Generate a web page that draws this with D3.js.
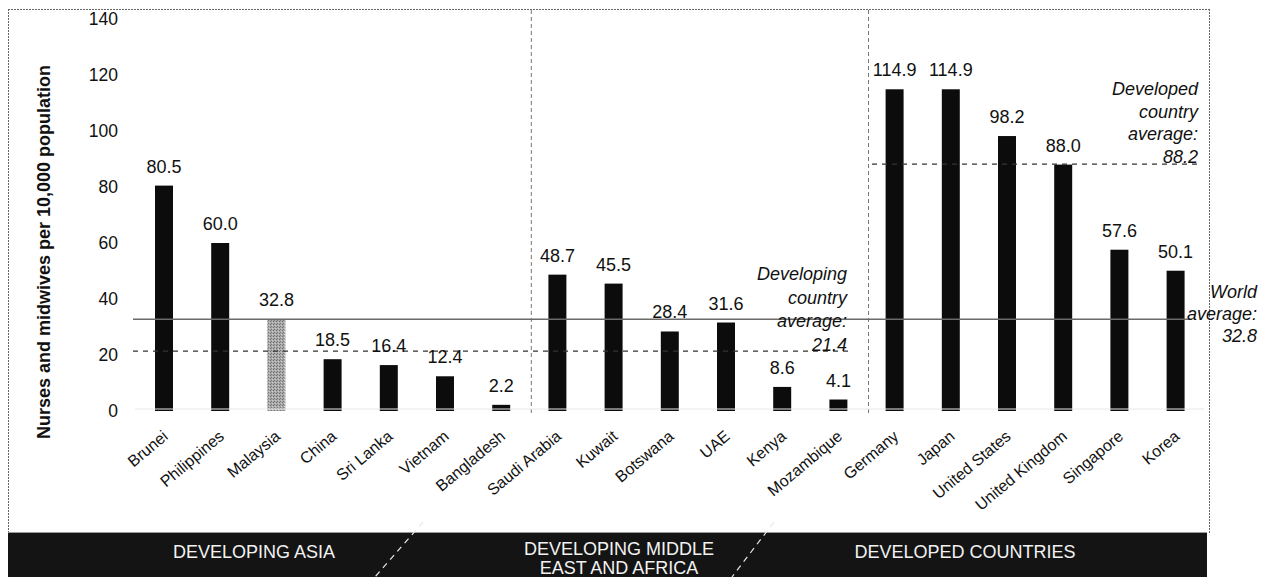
<!DOCTYPE html>
<html>
<head>
<meta charset="utf-8">
<script src="https://cdn.jsdelivr.net/npm/d3@7"></script>
<style>
  html, body { margin: 0; padding: 0; background: #fff; }
  svg { display: block; font-family: "Liberation Sans", Arial, Helvetica, sans-serif; }
</style>
</head>
<body>
<svg id="chart" width="1271" height="577"></svg>
<script>
// Nurses and midwives per 10,000 population, by country
const categories = ["Brunei", "Philippines", "Malaysia", "China", "Sri Lanka", "Vietnam", "Bangladesh",
  "Saudi Arabia", "Kuwait", "Botswana", "UAE", "Kenya", "Mozambique",
  "Germany", "Japan", "United States", "United Kingdom", "Singapore", "Korea"];
const values = [80.5, 60.0, 32.8, 18.5, 16.4, 12.4, 2.2,
  48.7, 45.5, 28.4, 31.6, 8.6, 4.1,
  114.9, 114.9, 98.2, 88.0, 57.6, 50.1];
const highlighted = ["Malaysia"];

// Regional groups (number of countries in each, in order)
const groupNames = [["DEVELOPING ASIA"], ["DEVELOPING MIDDLE", "EAST AND AFRICA"], ["DEVELOPED COUNTRIES"]];
const groupSizes = [7, 6, 6];

// Reference averages
const worldAverage = 32.8;
const developingAverage = 21.4;
const developedAverage = 88.2;

const yTicks = [0, 20, 40, 60, 80, 100, 120, 140];
const yTitle = "Nurses and midwives per 10,000 population";

const svg = d3.select("#chart");
const W = 1271, H = 577;

svg.append("rect").attr("width", W).attr("height", H).attr("fill", "#fff");

const x = d3.scaleBand()
  .domain(categories)
  .range([135.9, 1203.7])
  .paddingInner(0.68)
  .paddingOuter(0.34);

const y = d3.scaleLinear().domain([0, 140]).range([411, 19]);

// Texture for the highlighted bar
const defs = svg.append("defs");
const pat = defs.append("pattern")
  .attr("id", "stipple").attr("width", 3).attr("height", 3)
  .attr("patternUnits", "userSpaceOnUse");
pat.append("rect").attr("width", 3).attr("height", 3).attr("fill", "#a9a9a9");
pat.append("rect").attr("x", 0).attr("y", 0).attr("width", 1).attr("height", 1).attr("fill", "#6e6e6e");
pat.append("rect").attr("x", 2).attr("y", 1).attr("width", 1).attr("height", 1).attr("fill", "#cfcfcf");
pat.append("rect").attr("x", 1).attr("y", 2).attr("width", 1).attr("height", 1).attr("fill", "#7a7a7a");

// Outer frame (dotted)
const frame = svg.append("g").attr("stroke", "#666").attr("stroke-width", 1).attr("stroke-dasharray", "2,1").attr("fill", "none");
frame.append("line").attr("x1", 8).attr("x2", 1209).attr("y1", 9.5).attr("y2", 9.5);
frame.append("line").attr("x1", 8.5).attr("x2", 8.5).attr("y1", 9).attr("y2", 533);
frame.append("line").attr("x1", 1209.5).attr("x2", 1209.5).attr("y1", 9).attr("y2", 533);

// Group dividers
let idx = 0;
const dividerX = [];
groupSizes.slice(0, -1).forEach(n => {
  idx += n;
  const prev = categories[idx - 1];
  dividerX.push(x(prev) + x.bandwidth() / 2 + x.step() / 2 + 2);
});
svg.append("g").selectAll("line").data(dividerX).join("line")
  .attr("x1", d => d).attr("x2", d => d)
  .attr("y1", 10).attr("y2", 413)
  .attr("stroke", "#777").attr("stroke-width", 1).attr("stroke-dasharray", "4,3");

// Y axis tick labels
const yAxis = svg.append("g")
  .attr("transform", "translate(121,0)")
  .call(d3.axisLeft(y).tickValues(yTicks).tickSize(0).tickPadding(3).tickFormat(d3.format("d")));
yAxis.select(".domain").remove();
yAxis.selectAll("text").attr("font-size", 17.5).attr("fill", "#111")
  .attr("font-family", "Liberation Sans, Arial, sans-serif");

// Y axis title
svg.append("text")
  .attr("transform", "translate(50,252) rotate(-90)")
  .attr("text-anchor", "middle")
  .attr("font-size", 18).attr("font-weight", "bold").attr("fill", "#111")
  .text(yTitle);

// Bars
svg.append("g").selectAll("rect").data(categories).join("rect")
  .attr("x", d => x(d))
  .attr("width", x.bandwidth())
  .attr("y", (d, i) => y(values[i]))
  .attr("height", (d, i) => y(0) - y(values[i]))
  .attr("fill", d => highlighted.includes(d) ? "url(#stipple)" : "#0c0c0c");

// Light rule just above the base of the bars
svg.append("line")
  .attr("x1", 135).attr("x2", 1204)
  .attr("y1", y(0) - 2).attr("y2", y(0) - 2)
  .attr("stroke", "#e8e8e8").attr("stroke-width", 1);

// Average lines
svg.append("line")
  .attr("x1", 133).attr("x2", 1192)
  .attr("y1", y(worldAverage)).attr("y2", y(worldAverage))
  .attr("stroke", "#6a6a6a").attr("stroke-width", 1.5);
svg.append("line")
  .attr("x1", 133).attr("x2", 850)
  .attr("y1", y(developingAverage)).attr("y2", y(developingAverage))
  .attr("stroke", "#333").attr("stroke-width", 1.2).attr("stroke-dasharray", "5,5");
svg.append("line")
  .attr("x1", 872).attr("x2", 1200)
  .attr("y1", y(developedAverage)).attr("y2", y(developedAverage))
  .attr("stroke", "#333").attr("stroke-width", 1.2).attr("stroke-dasharray", "5,5");

// Value labels
svg.append("g").selectAll("text").data(categories).join("text")
  .attr("x", d => x(d) + x.bandwidth() / 2)
  .attr("y", (d, i) => y(values[i]) - 13)
  .attr("text-anchor", "middle")
  .attr("font-size", 18).attr("fill", "#111")
  .text((d, i) => values[i].toFixed(1));

// Category labels
const xAxis = svg.append("g")
  .attr("transform", `translate(0,${y(0)})`)
  .call(d3.axisBottom(x).tickSize(0));
xAxis.select(".domain").remove();
xAxis.selectAll("text")
  .attr("x", 0).attr("y", 0).attr("dy", 0)
  .attr("transform", "translate(5,27) rotate(-40)")
  .attr("text-anchor", "end")
  .attr("font-size", 16).attr("fill", "#111")
  .attr("font-family", "Liberation Sans, Arial, sans-serif");

// Average annotations
function note(lines, xr, y0, lh) {
  const t = svg.append("text")
    .attr("text-anchor", "end")
    .attr("font-size", 18).attr("font-style", "italic").attr("fill", "#111");
  lines.forEach((s, i) => t.append("tspan").attr("x", xr).attr("y", y0 + i * lh).text(s));
}
note(["Developing", "country", "average:", developingAverage.toFixed(1)], 847, 280, 23.5);
note(["Developed", "country", "average:", developedAverage.toFixed(1)], 1198, 95, 22.5);
note(["World", "average:", worldAverage.toFixed(1)], 1257, 298, 22);

// Group banner
svg.append("rect").attr("x", 8).attr("y", 533).attr("width", 1199).attr("height", 44).attr("fill", "#141414");
svg.append("line").attr("x1", 8).attr("x2", 1207).attr("y1", 532.5).attr("y2", 532.5)
  .attr("stroke", "#9a9a9a").attr("stroke-width", 1);

const bannerCenters = [254, 619, 965];
groupNames.forEach((lines, gi) => {
  const t = svg.append("text")
    .attr("text-anchor", "middle")
    .attr("font-size", 18).attr("fill", "#f2f2f2");
  const y0 = lines.length === 1 ? 558 : 555;
  lines.forEach((s, i) => t.append("tspan").attr("x", bannerCenters[gi]).attr("y", y0 + i * 19).text(s));
});

// Slashes between group names
const slashes = [[423, 522, 375, 577], [774, 522, 732, 577]];
slashes.forEach(([xa, ya, xb, yb]) => {
  svg.append("line").attr("x1", xa).attr("y1", ya).attr("x2", xb).attr("y2", yb)
    .attr("stroke", "#e8e8e8").attr("stroke-width", 1.2).attr("stroke-dasharray", "6,5");
});
</script>
</body>
</html>
